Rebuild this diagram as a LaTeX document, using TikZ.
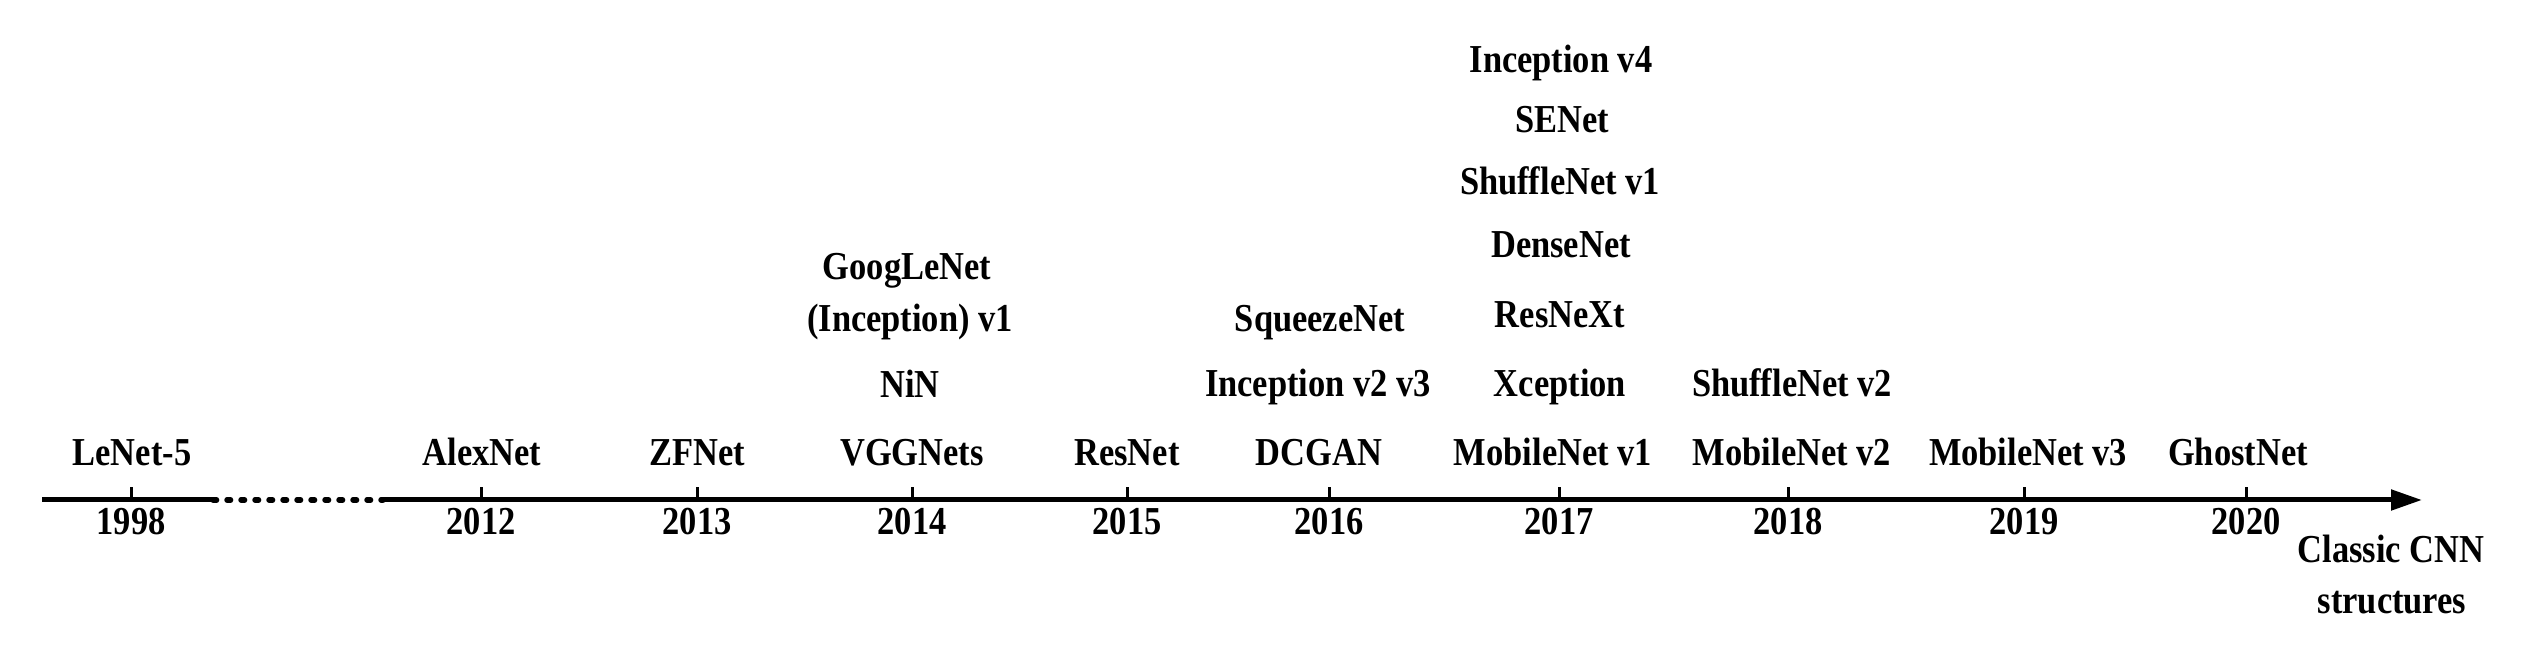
\documentclass[tikz,border=0pt]{standalone}
\usepackage{fontspec}
\setmainfont{Liberation Serif}[FakeStretch=0.87]
\usetikzlibrary{arrows.meta}
\begin{document}
\begin{tikzpicture}[x=0.25pt,y=-0.25pt,
  every node/.style={inner sep=0pt,outer sep=0pt,anchor=base,
    font=\fontsize{9.9pt}{12pt}\selectfont\bfseries},
  axisline/.style={line width=1.25pt},
  tickline/.style={line width=0.75pt}]
\useasboundingbox (0,0) rectangle (2526,660);
% axis
\coordinate (a0) at (42,500);
\coordinate (d0) at (213,500);
\coordinate (d1) at (383,500);
\coordinate (tip) at (2422,500);
\draw[axisline] (a0) -- (d0);
\draw[axisline,line width=1.35pt,dash pattern=on 0.9pt off 2.6pt,line cap=round] (d0) -- (d1);
\draw[axisline,-{Triangle[length=7.75pt,width=5pt]}] (d1) -- (tip);
% ticks and years
\foreach \yr/\xx in {1998/131,2012/481,2013/697,2014/912,2015/1127,2016/1329,2017/1559,2018/1788,2019/2024,2020/2246}{
  \coordinate (t\yr) at (\xx,500);
  \coordinate (u\yr) at (\xx,487);
  \draw[tickline] (t\yr) -- (u\yr);
  \node (y\yr) at (\xx,535) {\yr};
}
% labels on the axis row
\node (lenet)  at (132,466) {LeNet-5};
\node (alex)   at (482,466) {AlexNet};
\node (zf)     at (697,466) {ZFNet};
\node (vgg)    at (912,466) {VGGNets};
\node (resnet) at (1127,466) {ResNet};
\node (dcgan)  at (1319,466) {DCGAN};
\node (mob1)   at (1553,466) {MobileNet v1};
\node (mob2)   at (1792,466) {MobileNet v2};
\node (mob3)   at (2028,466) {MobileNet v3};
\node (ghost)  at (2238,466) {GhostNet};
% 2014 column
\node (nin)    at (910,398) {NiN};
\node (incv1)  at (910,332) {(Inception) v1};
\node (goog)   at (907,280) {GoogLeNet};
% 2016 column
\node (incv23) at (1318,397) {Inception v2 v3};
\node (squeeze) at (1320,332) {SqueezeNet};
% 2017 column
\node (xcep)   at (1560,397) {Xception};
\node (resnext) at (1560,328) {ResNeXt};
\node (dense)  at (1561,258) {DenseNet};
\node (shuf1)  at (1560,195) {ShuffleNet v1};
\node (senet)  at (1562,133) {SENet};
\node (incv4)  at (1561,73) {Inception v4};
% 2018 column
\node (shuf2)  at (1792,397) {ShuffleNet v2};
% axis title
\node (cls1) at (2391,563) {Classic CNN};
\node (cls2) at (2392,614) {structures};
\end{tikzpicture}
\end{document}
